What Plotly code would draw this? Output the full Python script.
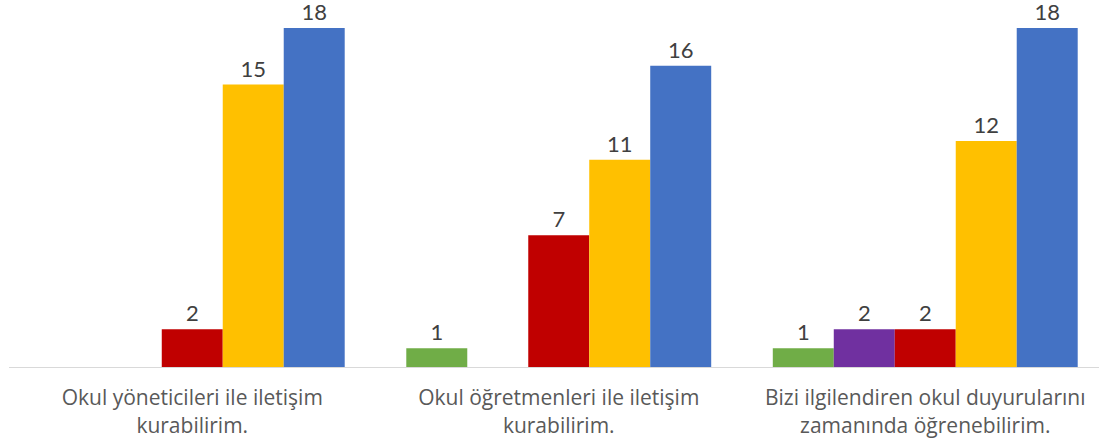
import plotly.graph_objects as go

# kategorie (osi x), zalamane na dva riadky ako v povodnom grafe
kategorie = ['Okul yöneticileri ile iletişim<br>kurabilirim.',
             'Okul öğretmenleri ile iletişim<br>kurabilirim.',
             'Bizi ilgilendiren okul duyurularını<br>zamanında öğrenebilirim.']

# hodnoty serii (None = stlpec sa nekresli)
kesinlikle_katilmiyorum = [None, 1, 1]
katilmiyorum = [None, None, 2]
kararsizim = [2, 7, 2]
katiliyorum = [15, 11, 12]
kesinlikle_katiliyorum = [18, 16, 18]

serie = [('Kesinlikle katılmıyorum', kesinlikle_katilmiyorum, '#70AD47'),
         ('Katılmıyorum', katilmiyorum, '#7030A0'),
         ('Kararsızım', kararsizim, '#C00000'),
         ('Katılıyorum', katiliyorum, '#FFC000'),
         ('Kesinlikle katılıyorum', kesinlikle_katiliyorum, '#4472C4')]

xpos = list(range(len(kategorie)))

fig = go.Figure()
for nazov, hodnoty, farba in serie:
    fig.add_trace(go.Bar(x=xpos, y=hodnoty, name=nazov, marker_color=farba, marker_line_width=0,
                         text=[('' if v is None else str(v)) for v in hodnoty],
                         textposition='outside', cliponaxis=False,
                         textfont=dict(family='Lato', size=22, color='#404040')))

fig.update_layout(width=1099, height=445, margin=dict(l=9, r=0, t=0, b=78),
                  plot_bgcolor='white', paper_bgcolor='white', showlegend=False,
                  barmode='group', bargap=0.168, bargroupgap=0,
                  xaxis=dict(range=[-0.5, -0.5 + 1090 / 366.5], tickmode='array', tickvals=xpos,
                             ticktext=kategorie, showline=True, linecolor='#D9D9D9', linewidth=1,
                             ticks='', showgrid=False, zeroline=False, ticklabelstandoff=12,
                             tickfont=dict(family='Open Sans', size=21, color='#595959')),
                  yaxis=dict(range=[0, 367 / 18.83], visible=False, showgrid=False, zeroline=False))

# body ma predvolene 8px okraj, horne popisky by sa orezali
fig.write_html('out.html', config={'displayModeBar': False},
               post_script="document.body.style.margin='0px';")
